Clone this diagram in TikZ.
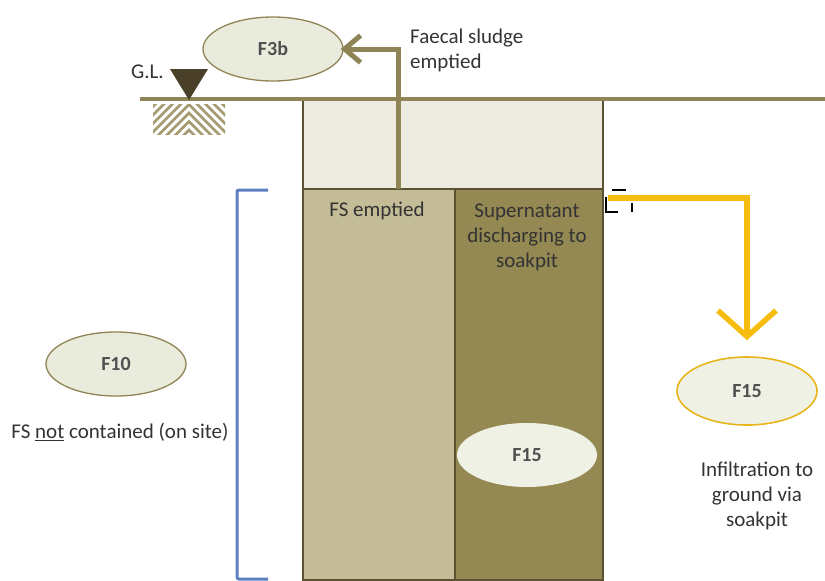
\documentclass[tikz,border=0pt]{standalone}
\usepackage{fontspec}
\setmainfont{Carlito}
\usetikzlibrary{shapes.geometric,arrows.meta}
\definecolor{groundOl}{HTML}{8F8455}
\definecolor{markDark}{HTML}{4A3F28}
\definecolor{hatchOl}{HTML}{A39A70}
\definecolor{tankTop}{HTML}{ECEAE1}
\definecolor{sludgeL}{HTML}{C4BC97}
\definecolor{sludgeR}{HTML}{948952}
\definecolor{tankEdge}{HTML}{5A5232}
\definecolor{bubbleFill}{HTML}{E9EBDC}
\definecolor{bubbleLight}{HTML}{EFF1E4}
\definecolor{flowYel}{HTML}{F6BC0E}
\definecolor{braceBlue}{HTML}{5B80C0}
\definecolor{txtGray}{HTML}{333333}
\definecolor{tagGray}{HTML}{505050}
\tikzset{
  bubble/.style={ellipse, inner sep=0pt, minimum width=140pt, minimum height=64pt,
    fill=bubbleFill, draw=groundOl, line width=1.3pt,
    font=\fontsize{20}{22}\selectfont\bfseries, text=tagGray},
  caption/.style={font=\fontsize{21}{25}\selectfont, text=txtGray, inner sep=0pt, align=center},
  sludgeflow/.style={draw=groundOl, line width=5pt,
    -{Straight Barb[length=16pt,width=27pt,line width=5pt]}},
  soakflow/.style={draw=flowYel, line width=5.5pt,
    -{Straight Barb[length=26pt,width=58pt,line width=5.5pt]}},
}
\begin{document}
\begin{tikzpicture}[x=1pt,y=-1pt]
\useasboundingbox (0,0) rectangle (825,581);

% hatched soil symbol under the ground-level mark
\begin{scope}
  \clip (153,104) rectangle (225,134);
  \foreach \k in {0,...,9}
    \draw[hatchOl, line width=2.8pt] (147,{62+\k*8.5+42}) -- (189,{62+\k*8.5}) -- (231,{62+\k*8.5+42});
\end{scope}

% tank body: scum layer on top, settled sludge and supernatant below
\fill[tankTop] (303,99) rectangle (603,189);
\fill[sludgeL] (303,189) rectangle (455,580);
\fill[sludgeR] (455,189) rectangle (603,580);
\draw[tankEdge, line width=2pt] (303,580) -- (303,100) -- (603,100) -- (603,580) -- cycle;
\draw[tankEdge, line width=2pt] (303,189) -- (603,189);
\draw[tankEdge, line width=2pt] (455,189) -- (455,580);

% ground line
\draw[groundOl, line width=4pt] (140,99) -- (825,99);

% ground-level marker
\fill[markDark] (170,69) -- (208,69) -- (189,100) -- cycle;
\node[caption, anchor=east] (gl) at (164,72) {G.L.};

% outlet pipe marks
\draw[black, line width=2.5pt] (612,190) -- (626,190);
\draw[black, line width=2.5pt] (606,197) -- (606,212) -- (618,212);
\draw[black, line width=2.5pt] (632,203) -- (632,212);

% bubbles
\node[bubble] (F3b) at (273,49) {F3b};
\node[bubble] (F10) at (116,364) {F10};
\node[bubble, fill=bubbleLight, draw=none] (F15in) at (527,455) {F15};
\node[bubble, fill=bubbleLight, draw=flowYel!85!groundOl, line width=1.6pt, minimum height=68pt] (F15out) at (747,391) {F15};

% captions
\node[caption, anchor=west, align=left] (faecal) at (410,50) {Faecal sludge\\emptied};
\node[caption] (fsEmp) at (377,211) {FS emptied};
\node[caption] (super) at (527,237) {Supernatant\\discharging to\\soakpit};
\node[caption] (notCont) at (120,432) {FS \underline{not} contained (on site)};
\node[caption] (infil) at (757,496) {Infiltration to\\ground via\\soakpit};

% flows
\coordinate (fsOut) at (398,189);
\draw[sludgeflow, shorten >=-3pt] (fsOut) |- (F3b.east);
\coordinate (pipeOut) at (608,198);
\draw[soakflow, shorten >=16pt] (pipeOut) -| (F15out.north);

% bracket marking the part of the pit that is not contained
\draw[braceBlue, line width=3pt, rounded corners=2pt] (268,190) -- (237,190) -- (237,579) -- (268,579);
\end{tikzpicture}
\end{document}
